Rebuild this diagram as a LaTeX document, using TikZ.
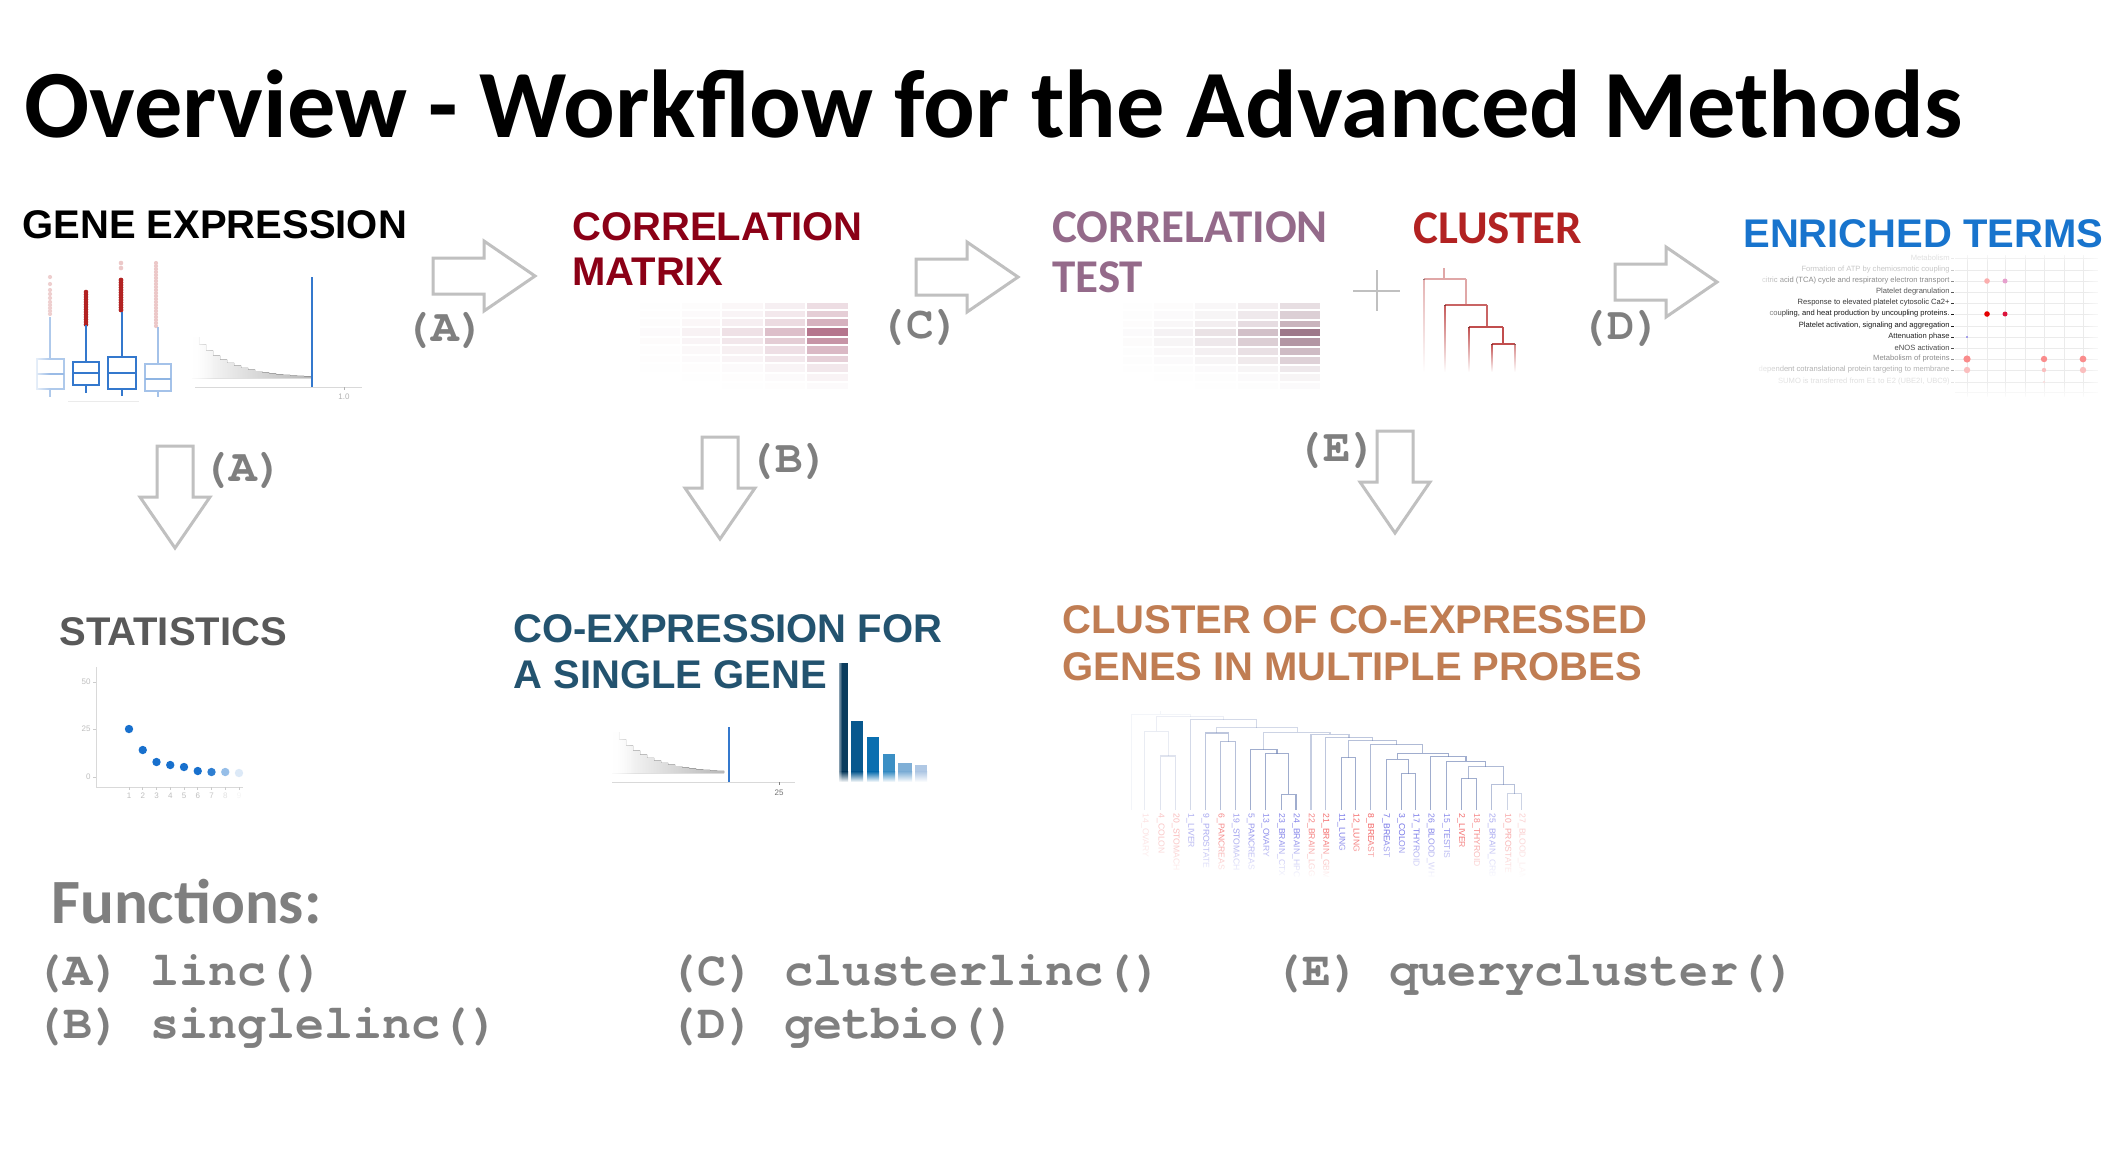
\documentclass[tikz,border=0pt]{standalone}
\usepackage{fontspec}
\setmainfont{Liberation Sans}
\newfontfamily\carlito{Carlito}
\newfontfamily\cour{TeX Gyre Cursor}
\usetikzlibrary{fadings}
\definecolor{cmatrix}{RGB}{139,0,22}
\definecolor{ctest}{RGB}{148,106,138}
\definecolor{ccluster}{RGB}{178,34,34}
\definecolor{cenrich}{RGB}{24,116,205}
\definecolor{cstat}{RGB}{89,89,89}
\definecolor{ccoexp}{RGB}{35,83,111}
\definecolor{cclco}{RGB}{192,125,83}
\definecolor{cfun}{RGB}{127,127,127}
\definecolor{carrow}{RGB}{192,192,192}
\definecolor{boxblue}{RGB}{52,120,205}
\definecolor{dendro}{RGB}{110,130,180}
\definecolor{leafred}{RGB}{240,60,60}
\definecolor{leafblue}{RGB}{80,80,225}
\definecolor{heatA}{RGB}{130,20,60}
\definecolor{heatB}{RGB}{90,25,55}
\definecolor{dotblue}{RGB}{24,112,205}
\definecolor{bar1}{RGB}{11,60,93}
\definecolor{bar2}{RGB}{8,88,142}
\definecolor{bar3}{RGB}{10,111,176}
\definecolor{bar4}{RGB}{59,143,196}
\definecolor{bar5}{RGB}{127,175,214}
\definecolor{bar6}{RGB}{176,200,228}
\definecolor{dpink}{RGB}{250,140,140}
\definecolor{dlpink}{RGB}{250,190,190}
\definecolor{dmauve}{RGB}{230,160,205}
\definecolor{dcrim}{RGB}{220,20,60}
\definecolor{dviol}{RGB}{90,80,230}
\tikzfading[name=opaqueLeft, left color=transparent!0, right color=transparent!100]
\tikzfading[name=opaqueRight, left color=transparent!100, right color=transparent!0]
\tikzfading[name=opaqueBottom, top color=transparent!100, bottom color=transparent!0]
\tikzfading[name=opaqueTop, top color=transparent!0, bottom color=transparent!100]
\tikzset{
  head/.style={font=\fontsize{20}{24}\selectfont\bfseries, inner sep=0, anchor=base west},
  headc/.style={font=\fontsize{23.5}{28}\carlito\bfseries, inner sep=0, anchor=base west},
  lab/.style={font=\fontsize{23}{27}\cour\bfseries, text=cfun, inner sep=0},
  fun/.style={font=\fontsize{24.2}{28}\cour\bfseries, text=cfun, inner sep=0, anchor=base west},
  arrowline/.style={draw=carrow, line width=1.5pt, fill=white, line join=miter},
  tinylab/.style={font=\fontsize{4}{5}\selectfont, inner sep=0},
  termlab/.style={font=\fontsize{3.8}{4.5}\selectfont, inner sep=0, anchor=east},
  leaflab/.style={font=\fontsize{4.3}{5}\selectfont, inner sep=0, anchor=west, rotate=-90},
  dl/.style={draw=dendro, line width=0.55pt, draw opacity=#1},
  dl/.default=0.65,
  blockarrow/.pic={\draw[arrowline] (-51,-18) -- (0,-18) -- (0,-35) -- (51,0) -- (0,35) -- (0,18) -- (-51,18) -- cycle;}
}
\begin{document}
\begin{tikzpicture}[x=0.5pt,y=-0.5pt]
\useasboundingbox (0,0) rectangle (2118,1148);
\fill[white] (0,0) rectangle (2118,1148);

% ---------- title ----------
\node[font=\fontsize{48.2}{56}\carlito\bfseries, anchor=base west, inner sep=0] (title) at (24,137) {Overview - Workflow for the Advanced Methods};

% ---------- headings ----------
\node[head] (gene) at (22,238) {GENE EXPRESSION};
\node[head, text=cmatrix] (cm1) at (572,240) {CORRELATION};
\node[head, text=cmatrix] (cm2) at (572,285) {MATRIX};
\node[headc, text=ctest] (ct1) at (1052,242) {CORRELATION};
\node[headc, text=ctest] (ct2) at (1052,292) {TEST};
\node[headc, text=ccluster] (clu) at (1413,243) {CLUSTER};
\node[head, text=cenrich] (enr) at (1743,247) {ENRICHED TERMS};
\node[head, text=cstat] (stat) at (59,645) {STATISTICS};
\node[head, text=ccoexp] (co1) at (513,642) {CO-EXPRESSION FOR};
\node[head, text=ccoexp] (co2) at (513,688) {A SINGLE GENE};
\node[head, text=cclco] (cc1) at (1062,633) {CLUSTER OF CO-EXPRESSED};
\node[head, text=cclco] (cc2) at (1062,680) {GENES IN MULTIPLE PROBES};

% ---------- block arrows and labels ----------
\pic at (484,276) {blockarrow};
\pic at (967,277) {blockarrow};
\pic at (1666,282) {blockarrow};
\pic[rotate=-90] at (175,497) {blockarrow};
\pic[rotate=-90] at (720,488) {blockarrow};
\pic[rotate=-90] at (1395,482) {blockarrow};
\node[lab] (la1) at (445,330) {(A)};
\node[lab] (lc) at (920,327) {(C)};
\node[lab] (ld) at (1621,328) {(D)};
\node[lab] (la2) at (243,470) {(A)};
\node[lab] (lb) at (789,461) {(B)};
\node[lab] (le) at (1337,450) {(E)};
% plus sign
\draw[carrow, line width=1.3pt] (1353,291) -- (1400,291) (1377,270) -- (1377,311);

% ---------- gene expression plot ----------
\foreach \y in {277,284,290,294,298,302,305,308,311,314} \fill[ccluster!22] (50,\y) circle (2.1);
\foreach \y in {292,294.5,...,325} \fill[ccluster] (86,\y) circle (2.3);
\foreach \y in {263,268} \fill[ccluster!25] (121,\y) circle (2.3);
\foreach \y in {280,282.5,...,312} \fill[ccluster] (121,\y) circle (2.4);
\foreach \y in {263,266,...,327} \fill[ccluster!25] (156,\y) circle (2.1);
\draw[boxblue!40, line width=0.7pt] (37,359) rectangle (64,389) (50,317)--(50,359) (50,389)--(50,397);
\draw[boxblue!50, line width=1.2pt] (37,374)--(64,374);
\draw[boxblue, line width=0.8pt] (73,362) rectangle (99,385) (86,325)--(86,362) (86,385)--(86,393);
\draw[boxblue, line width=1.4pt] (73,373)--(99,373);
\draw[boxblue, line width=0.8pt] (108,357) rectangle (136,389) (122,312)--(122,357) (122,389)--(122,396);
\draw[boxblue, line width=1.4pt] (108,373)--(136,373);
\draw[boxblue!45, line width=0.7pt] (145,364) rectangle (171,391) (158,327)--(158,364) (158,391)--(158,397);
\draw[boxblue!55, line width=1.2pt] (145,379)--(171,379);
\fill[white, path fading=opaqueLeft] (30,255) rectangle (50,400);
\draw[black!8, line width=0.5pt] (68,401)--(139,401);
\fill[left color=white, right color=black!28] (192,378) \foreach \i in {0,...,16}{ -- ({192+7*\i},{378-41*exp(-0.2*\i)}) -- ({199+7*\i},{378-41*exp(-0.2*\i)}) } -- (311,378) -- cycle;
\fill[white, path fading=opaqueLeft] (188,330) rectangle (215,380);
\draw[black!15, line width=0.5pt] (195,387)--(362,387);
\draw[boxblue, line width=0.6pt] (312,277)--(312,387);
\draw[black!30, line width=0.4pt] (344,387)--(344,390);
\node[tinylab, text=black!30] (t10) at (344,397) {1.0};

% ---------- correlation matrix heatmap ----------
\foreach \xa/\xb/\cf in {639/681/0.02,681/721/0.06,721/764/0.14,764/806/0.3,806/849/0.65}{
  \foreach \ya/\yb/\rf in {302/310/0.22,310/318/0.32,318/327/0.5,327/337/0.9,337/345/0.7,345/355/0.45,355/363/0.3,363/373/0.15,373/382/0.07,382/390/0.03}{
    \pgfmathsetmacro\op{\cf*\rf}
    \fill[heatA, opacity=\op] (\xa+0.8,\ya+0.6) rectangle (\xb-0.8,\yb-0.6);
  }
}
% ---------- correlation test heatmap ----------
\foreach \xa/\xb/\cf in {1122/1153/0.02,1153/1194/0.06,1194/1237/0.14,1237/1279/0.3,1279/1321/0.65}{
  \foreach \ya/\yb/\rf in {302/310/0.22,310/320/0.32,320/328/0.5,328/337/0.9,337/347/0.7,347/356/0.45,356/365/0.3,365/373/0.15,373/382/0.07,382/390/0.03}{
    \pgfmathsetmacro\op{\cf*\rf}
    \fill[heatB, opacity=\op] (\xa+0.8,\ya+0.6) rectangle (\xb-0.8,\yb-0.6);
  }
}
% ---------- small dendrogram ----------
\draw[ccluster!40, line width=0.7pt] (1444,268)--(1444,279) (1424,279)--(1466,279) (1466,279)--(1466,305);
\draw[ccluster!70, line width=0.7pt] (1445,305)--(1487,305) (1487,305)--(1487,327);
\draw[ccluster!80, line width=0.7pt] (1469,327)--(1503,327) (1503,327)--(1503,344) (1492,344)--(1515,344);
\fill[top color=ccluster!35, bottom color=white] (1423.3,279) rectangle (1424.7,372);
\fill[top color=ccluster!75, bottom color=white] (1444.3,305) rectangle (1445.7,372);
\fill[top color=ccluster!80, bottom color=white] (1468.3,327) rectangle (1469.7,372);
\fill[top color=ccluster!80, bottom color=white] (1491.3,344) rectangle (1492.7,372);
\fill[top color=ccluster!55, bottom color=white] (1514.3,344) rectangle (1515.7,372);

% ---------- enriched terms ----------
\foreach \x in {1967,1987,2005,2025,2044,2064,2083} \draw[black!8, line width=0.5pt] (\x,255)--(\x,397);
\foreach \y in {258,270,281,292,303,314,326,337,348,359,370,382,392} \draw[black!8, line width=0.5pt] (1955,\y)--(2098,\y);
\begin{scope}
\clip (1752,250) rectangle (1960,400);
\foreach \y/\c/\t [count=\k] in {
 258/black!12/Metabolism,
 270/black!22/Formation of ATP by chemiosmotic coupling,
 281/black!45/citric acid (TCA) cycle and respiratory electron transport,
 292/black!65/Platelet degranulation,
 303/black!78/Response to elevated platelet cytosolic Ca2+,
 314/black!90/coupling{,} and heat production by uncoupling proteins.,
 326/black!90/Platelet activation{,} signaling and aggregation,
 337/black!85/Attenuation phase,
 348/black!70/eNOS activation,
 359/black!45/Metabolism of proteins,
 370/black!30/dependent cotranslational protein targeting to membrane,
 382/black!12/SUMO is transferred from E1 to E2 (UBE2I{,} UBC9)}{
  \node[termlab, text=\c] (term\k) at (1950,\y) {\t};
  \draw[\c, line width=0.3pt] (1951,\y)--(1954,\y);
}
\end{scope}
\fill[white, path fading=opaqueLeft] (1750,250) rectangle (1790,400);
\fill[dpink!70] (1987,281) circle (2.8);
\fill[dmauve] (2005,281) circle (2.5);
\fill[red!90!black] (1987,314) circle (2.8);
\fill[dcrim] (2005,314) circle (2.5);
\fill[dviol] (1967,337) circle (0.9);
\fill[dpink] (1967,359) circle (3.6);
\fill[dpink] (2044,359) circle (3.2);
\fill[dpink] (2083,359) circle (3.4);
\fill[dlpink] (1967,370) circle (3.2);
\fill[dlpink] (2044,370) circle (2.2);
\fill[dlpink] (2083,370) circle (3.2);
\fill[dlpink!60] (2044,382) circle (1.2);
\fill[white, path fading=opaqueTop] (1950,250) rectangle (2105,262);
\fill[white, path fading=opaqueBottom] (1940,380) rectangle (2105,400);
\fill[white, path fading=opaqueRight] (2085,250) rectangle (2105,400);

% ---------- statistics plot ----------
\draw[black!15, line width=0.5pt] (96,667)--(96,787)--(243,787);
\foreach \y/\t in {682/50,729/25,777/0}{
  \draw[black!20, line width=0.4pt] (93,\y)--(96,\y);
  \node[tinylab, text=black!25, anchor=east] (sy\t) at (91,\y) {\t};
}
\foreach \v/\op [count=\i] in {729/1,750/1,762/1,765/1,767/1,771/1,772/0.9,772/0.45,773/0.15}{
  \fill[dotblue, opacity=\op] ({129+13.75*(\i-1)},\v) circle (4.2);
  \draw[black!20, line width=0.4pt] ({129+13.75*(\i-1)},787)--({129+13.75*(\i-1)},790);
  \node[tinylab, text=black!25, opacity=\op] (sx\i) at ({129+13.75*(\i-1)},796) {\i};
}

% ---------- co-expression plot ----------
\fill[left color=white, right color=black!28] (612,773) \foreach \i in {0,...,15}{ -- ({612+7*\i},{773-41*exp(-0.2*\i)}) -- ({619+7*\i},{773-41*exp(-0.2*\i)}) } -- (724,773) -- cycle;
\fill[white, path fading=opaqueLeft] (608,725) rectangle (635,775);
\draw[black!15, line width=0.5pt] (612,782)--(795,782);
\draw[boxblue, line width=0.6pt] (729,727)--(729,782);
\draw[black!50, line width=0.4pt] (779,782)--(779,785);
\node[tinylab, text=black!55] (t25) at (779,793) {25};
\foreach \xa/\xb/\yt/\c in {839/848/663/bar1,851/863/721/bar2,867/879/737/bar3,883/895/754/bar4,898/912/763/bar5,915/927/765/bar6}{
  \fill[\c] (\xa,\yt) rectangle (\xb,772);
  \fill[top color=\c, bottom color=white] (\xa,771.5) rectangle (\xb,782);
}
\fill[white, path fading=opaqueLeft] (836,660) rectangle (842,785);

% ---------- big dendrogram ----------
\begin{scope}[shift={(1050,580)}, xscale=1/2.529, yscale=1/3]
 \begin{scope}[shift={(0,131)}, yscale=0.81]
 \draw[dl] (585,690)--(585,632)--(622,632)--(622,690);
 \draw[dl] (545,690)--(545,482)--(603.5,482)--(603.5,632);
 \draw[dl] (508,690)--(508,466)--(574,466)--(574,482);
 \draw[dl=0.5] (432,690)--(432,438)--(470,438)--(470,690);
 \draw[dl=0.45] (393,690)--(393,405)--(451,405)--(451,438);
 \draw[dl] (737,690)--(737,497)--(773,497)--(773,690);
 \draw[dl] (888,690)--(888,556)--(925,556)--(925,690);
 \draw[dl] (850,690)--(850,502)--(906.5,502)--(906.5,556);
 \draw[dl] (1040,690)--(1040,575)--(1078,575)--(1078,690);
 \draw[dl=0.35] (1157,690)--(1157,630)--(1193,630)--(1193,690);
 \draw[dl=0.5] (1117,690)--(1117,597)--(1175,597)--(1175,630);
 \draw[dl=0.55] (1059,575)--(1059,530)--(1146,530)--(1146,597);
 \draw[dl] (1002,690)--(1002,510)--(1102,510)--(1102,530);
 \draw[dl] (963,690)--(963,493)--(1052,493)--(1052,510);
 \draw[dl] (878,502)--(878,480)--(1007,480)--(1007,493);
 \draw[dl=0.55] (810,690)--(810,448)--(943,448)--(943,480);
 \draw[dl=0.5] (755,497)--(755,434)--(876,434)--(876,448);
 \draw[dl=0.45] (697,690)--(697,422)--(815,422)--(815,434);
 \draw[dl=0.4] (660,690)--(660,410)--(756,410)--(756,422);
 \draw[dl=0.35] (541,466)--(541,403)--(708,403)--(708,410);
 \draw[dl=0.3] (422,405)--(422,385)--(625,385)--(625,403);
 \draw[dl=0.22] (280,690)--(280,490)--(318,490)--(318,690);
 \draw[dl=0.15] (240,690)--(240,398)--(299,398)--(299,490);
 \draw[dl=0.3] (355,690)--(355,355)--(523,355)--(523,385);
 \draw[dl=0.13] (270,398)--(270,345)--(439,345)--(439,355);
 \draw[dl=0.08] (205,690)--(205,335)--(355,335)--(355,345) (280,335)--(280,325);
 \end{scope}
 \foreach \x/\t/\c in {240/14\_OVARY/leafred!15, 280/4\_COLON/leafred!30, 318/20\_STOMACH/leafred!35,
   355/1\_LIVER/leafblue!45, 393/9\_PROSTATE/leafblue!50, 432/6\_PANCREAS/leafred!60,
   470/19\_STOMACH/leafblue!55, 508/5\_PANCREAS/leafblue!60, 545/13\_OVARY/leafblue!65,
   585/23\_BRAIN\_CTX/leafblue!70, 622/24\_BRAIN\_HPC/leafblue!70, 660/22\_BRAIN\_LGG/leafred!65,
   697/21\_BRAIN\_GBM/leafred!75, 737/11\_LUNG/leafblue!75, 773/12\_LUNG/leafred!75,
   810/8\_BREAST/leafred!80, 850/7\_BREAST/leafblue!80, 888/3\_COLON/leafblue!80,
   925/17\_THYROID/leafblue!75, 963/26\_BLOOD\_WHOLE/leafblue!70, 1002/15\_TESTIS/leafblue!65,
   1040/2\_LIVER/leafred!75, 1078/18\_THYROID/leafred!60, 1117/25\_BRAIN\_CRB/leafblue!50,
   1157/10\_PROSTATE/leafred!45, 1193/27\_BLOOD\_LAML/leafred!25}{
   \node[leaflab, text=\c] (leaf\x) at (\x,700) {\t};
 }
\end{scope}
\fill[white, path fading=opaqueBottom] (1120,835) rectangle (1540,878);
\fill[white] (1120,877) rectangle (1540,895);

% ---------- functions ----------
\node[font=\fontsize{31.5}{37}\carlito\bfseries, text=cfun, anchor=base west, inner sep=0] (funs) at (51,923) {Functions:};
\node[fun] (fa) at (34,985) {(A) linc()};
\node[fun] (fb) at (34,1038) {(B) singlelinc()};
\node[fun] (fc) at (668,985) {(C) clusterlinc()};
\node[fun] (fd) at (668,1038) {(D) getbio()};
\node[fun] (fe) at (1273,985) {(E) querycluster()};
\end{tikzpicture}
\end{document}
